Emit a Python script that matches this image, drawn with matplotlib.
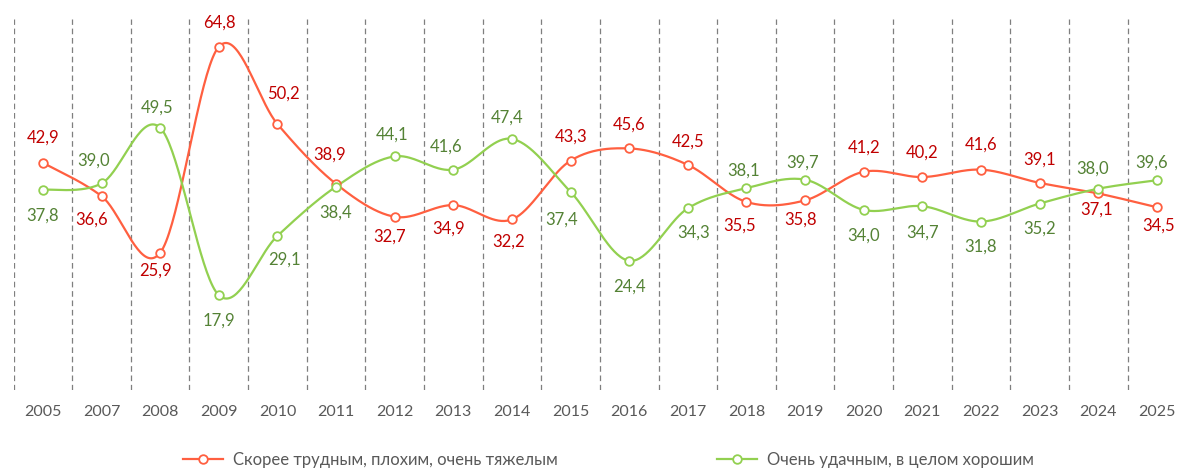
import numpy as np
import matplotlib
matplotlib.use("Agg")
import matplotlib.pyplot as plt
from matplotlib.lines import Line2D

plt.rcParams['font.family'] = ['Lato', 'DejaVu Sans']

years = ["2005", "2007", "2008", "2009", "2010", "2011", "2012", "2013", "2014", "2015",
         "2016", "2017", "2018", "2019", "2020", "2021", "2022", "2023", "2024", "2025"]
bad = [42.9, 36.6, 25.9, 64.8, 50.2, 38.9, 32.7, 34.9, 32.2, 43.3,
       45.6, 42.5, 35.5, 35.8, 41.2, 40.2, 41.6, 39.1, 37.1, 34.5]
good = [37.8, 39.0, 49.5, 17.9, 29.1, 38.4, 44.1, 41.6, 47.4, 37.4,
        24.4, 34.3, 38.1, 39.7, 34.0, 34.7, 31.8, 35.2, 38.0, 39.6]
bad_name = "Скорее трудным, плохим, очень тяжелым"
good_name = "Очень удачным, в целом хорошим"

# label offsets in pixels (layout)
bad_dy = [25, -24, -18, 24, 30, 29, -20, -23, -22, 24, 24, 23, -24, -19, 24, 24, 25, 23, -16, -18]
bad_dx = [0, -10, -5, 1, 6, -6, -5, -5, -3, 0, 0, 0, -7, -5, 0, 0, 0, 0, -2, 2]
good_dy = [-26, 23, 20, -25, -24, -26, 22, 23, 21, -28, -26, -24, 18, 17, -26, -26, -25, -25, 20, 18]
good_dx = [0, -8, -3, 0, 7, 0, -3, -7, -5, -9, 0, 6, -3, -3, 0, 0, 0, 0, -6, -5]

RED = "#FF5F40"
RED_T = "#C00000"
GRN = "#92D050"
GRN_T = "#548235"


def smooth(xs, ys, n=40):
    P = np.column_stack([xs, ys]).astype(float)
    Pe = np.vstack([P[0], P, P[-1]])
    out = []
    t = np.linspace(0, 1, n)[:, None]
    for i in range(len(P) - 1):
        p0 = Pe[i + 1]
        p3 = Pe[i + 2]
        c1 = p0 + (Pe[i + 2] - Pe[i]) / 6.0
        c2 = p3 - (Pe[i + 3] - Pe[i + 1]) / 6.0
        seg = ((1 - t) ** 3) * p0 + 3 * ((1 - t) ** 2) * t * c1 + 3 * (1 - t) * t ** 2 * c2 + t ** 3 * p3
        out.append(seg if i == 0 else seg[1:])
    c = np.vstack(out)
    return c[:, 0], c[:, 1]


fig = plt.figure(figsize=(11.78, 4.68), dpi=100)
W, H = 1178, 468
left, right, top, bottom = 13.6, 1186.2, 19.2, 390
ax = fig.add_axes([left / W, 1 - bottom / H, (right - left) / W, (bottom - top) / H])
ax.set_xlim(-0.5, len(years) - 0.5)
ax.set_ylim(0, 70)

x = np.arange(len(years))
ax.vlines(np.arange(len(years) + 1) - 0.5, 0, 70, colors="#7F7F7F", linewidth=0.9,
          linestyles=(0, (4.5, 3)), zorder=1)

for vals, col, tcol, dys, dxs in [(bad, RED, RED_T, bad_dy, bad_dx), (good, GRN, GRN_T, good_dy, good_dx)]:
    sx, sy = smooth(x, vals)
    ax.plot(sx, sy, color=col, lw=1.6, zorder=3, solid_capstyle='round')
    ax.plot(x, vals, ls='none', marker='o', ms=6.2, mfc='white', mec=col, mew=1.3, zorder=4)
    for xi, v, dy, dx in zip(x, vals, dys, dxs):
        ax.annotate(f"{v:.1f}".replace(".", ","), (xi, v), xytext=(dx, dy),
                    textcoords='offset pixels', ha='center', va='center',
                    fontsize=12, color=tcol, zorder=5, annotation_clip=False)

ax.set_xticks(x)
ax.set_xticklabels(years, fontsize=11.5, color="#595959")
ax.tick_params(axis='x', length=0, pad=11)
ax.set_yticks([])
for s in ax.spines.values():
    s.set_visible(False)

handles = [Line2D([], [], color=RED, lw=1.6, marker='o', ms=6.2, mfc='white', mec=RED, mew=1.3),
           Line2D([], [], color=GRN, lw=1.6, marker='o', ms=6.2, mfc='white', mec=GRN, mew=1.3)]
leg = fig.legend(handles, [bad_name, good_name], loc='center', bbox_to_anchor=(608.5 / W, 1 - 460 / H),
                 ncol=2, frameon=False, fontsize=12, handlelength=2.4, handletextpad=0.6,
                 columnspacing=9.6, labelcolor="#595959")

fig.savefig("out.png", dpi=100)
